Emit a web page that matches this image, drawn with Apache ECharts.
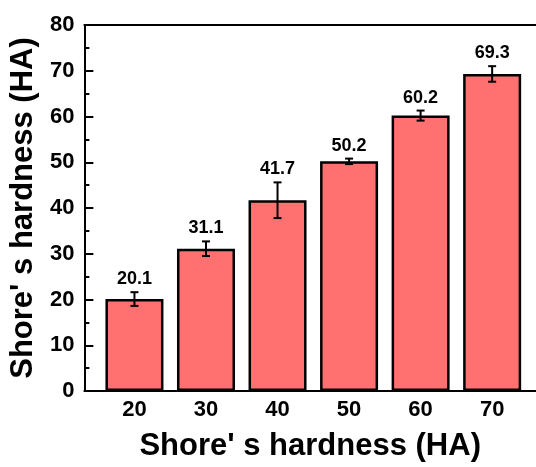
<!DOCTYPE html>
<html>
<head>
<meta charset="utf-8">
<script src="https://cdn.jsdelivr.net/npm/echarts@6/dist/echarts.min.js"></script>
<style>
  html, body { margin: 0; padding: 0; background: #fff; }
  #chart { width: 536px; height: 467px; }
</style>
</head>
<body>
<div id="chart"></div>
<script>
// Shore hardness groups (HA) and measured values with standard deviations
const groups = [20, 30, 40, 50, 60, 70];
const hardness = [20.1, 31.1, 41.7, 50.2, 60.2, 69.3];
const deviation = [1.5, 1.6, 3.9, 0.6, 1.1, 1.7];
const yTicks = [0, 10, 20, 30, 40, 50, 60, 70, 80];

const FONT = '"Liberation Sans", Arial, sans-serif';
const barData = groups.map((g, i) => [g, hardness[i]]);
const errData = groups.map((g, i) => [g, hardness[i], deviation[i]]);

// the x range runs past the last group so the frame continues to the right edge
const X_MIN = 13;
const X_MAX = 76.13;

const chart = echarts.init(document.getElementById('chart'), null, { renderer: 'canvas' });

chart.setOption({
  animation: false,
  backgroundColor: '#ffffff',
  grid: { left: 84, top: 25, bottom: 73.5, right: 0, containLabel: false },
  xAxis: [{
    type: 'value',
    min: X_MIN,
    max: X_MAX,
    name: "Shore' s hardness (HA)",
    nameLocation: 'middle',
    nameGap: 40,
    nameTextStyle: { fontFamily: FONT, fontWeight: 'bold', fontSize: 31, color: '#000' },
    axisLine: { show: true, onZero: false, lineStyle: { color: '#000', width: 2 } },
    axisTick: { show: true, inside: true, length: 7, customValues: groups, lineStyle: { color: '#000', width: 2 } },
    axisLabel: { customValues: groups, margin: 8, fontFamily: FONT, fontWeight: 'bold', fontSize: 22, color: '#000' },
    splitLine: { show: false }
  }, {
    type: 'value',
    position: 'top',
    min: X_MIN,
    max: X_MAX,
    axisLine: { show: true, onZero: false, lineStyle: { color: '#000', width: 2 } },
    axisTick: { show: false },
    axisLabel: { show: false },
    splitLine: { show: false }
  }],
  yAxis: {
    type: 'value',
    min: 0,
    max: 80,
    interval: 10,
    name: "Shore' s hardness (HA)",
    nameLocation: 'middle',
    nameGap: 43,
    nameTextStyle: { fontFamily: FONT, fontWeight: 'bold', fontSize: 31, color: '#000' },
    axisLine: { show: true, onZero: false, lineStyle: { color: '#000', width: 2 } },
    axisTick: { show: true, inside: true, length: 9, lineStyle: { color: '#000', width: 2 } },
    minorTick: { show: true, splitNumber: 2, length: 5, lineStyle: { color: '#000', width: 2 } },
    axisLabel: {
      margin: 10, fontFamily: FONT, fontWeight: 'bold', fontSize: 22, color: '#000',
      formatter: v => (yTicks.includes(v) ? String(v) : '')
    },
    splitLine: { show: false }
  },
  series: [{
    type: 'bar',
    xAxisIndex: 0,
    data: barData,
    barWidth: 58,
    itemStyle: { color: '#FF7070', borderColor: '#000', borderWidth: 2.5 }
  }, {
    type: 'custom',
    xAxisIndex: 0,
    data: errData,
    z: 10,
    renderItem: function (params, api) {
      const x = api.value(0), v = api.value(1), e = api.value(2);
      const hi = api.coord([x, v + e]);
      const lo = api.coord([x, v - e]);
      const cap = 4;
      const ls = { stroke: '#000', lineWidth: 2 };
      return {
        type: 'group',
        children: [
          { type: 'line', shape: { x1: hi[0], y1: hi[1], x2: lo[0], y2: lo[1] }, style: ls },
          { type: 'line', shape: { x1: hi[0] - cap, y1: hi[1], x2: hi[0] + cap, y2: hi[1] }, style: ls },
          { type: 'line', shape: { x1: lo[0] - cap, y1: lo[1], x2: lo[0] + cap, y2: lo[1] }, style: ls },
          {
            type: 'text',
            style: {
              text: v.toFixed(1), x: hi[0], y: hi[1] - 4,
              textAlign: 'center', textVerticalAlign: 'bottom',
              font: 'bold 18px ' + FONT, fill: '#000'
            }
          }
        ]
      };
    }
  }]
});
</script>
</body>
</html>
